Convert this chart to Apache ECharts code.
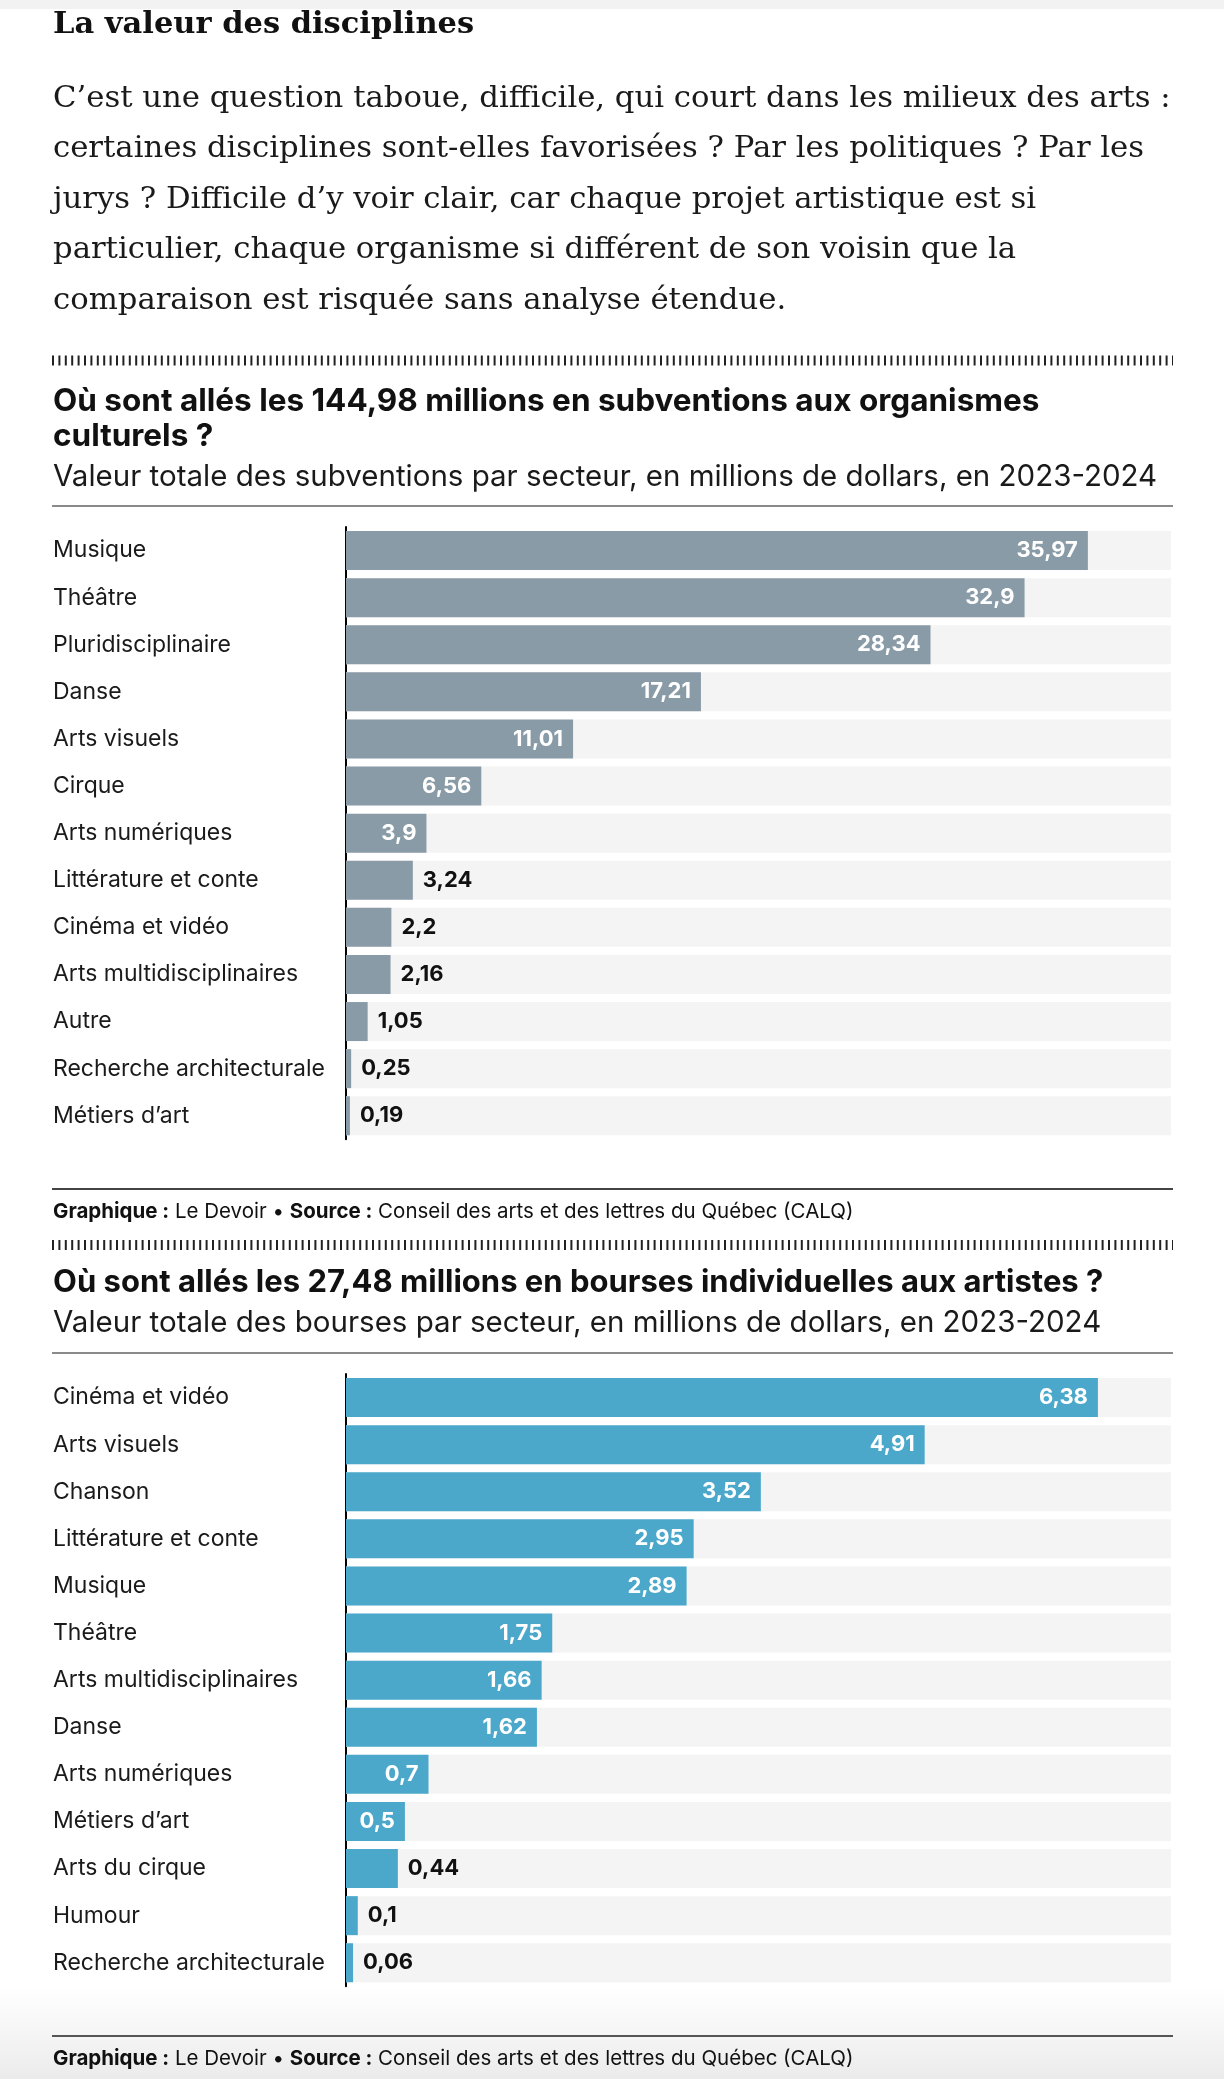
<!DOCTYPE html>
<html>
<head>
<meta charset="utf-8">
<script src="https://cdn.jsdelivr.net/npm/echarts@6/dist/echarts.min.js"></script>
<style>
html,body{margin:0;padding:0;background:#fff;}
#main{width:1224px;height:2079px;}
</style>
</head>
<body>
<div id="main"></div>
<script>
// ---- data ----
const categories1 = ["Musique","Théâtre","Pluridisciplinaire","Danse","Arts visuels","Cirque","Arts numériques","Littérature et conte","Cinéma et vidéo","Arts multidisciplinaires","Autre","Recherche architecturale","Métiers d’art"];
const values1 = [35.97,32.9,28.34,17.21,11.01,6.56,3.9,3.24,2.2,2.16,1.05,0.25,0.19];
const categories2 = ["Cinéma et vidéo","Arts visuels","Chanson","Littérature et conte","Musique","Théâtre","Arts multidisciplinaires","Danse","Arts numériques","Métiers d’art","Arts du cirque","Humour","Recherche architecturale"];
const values2 = [6.38,4.91,3.52,2.95,2.89,1.75,1.66,1.62,0.7,0.5,0.44,0.1,0.06];
const axisMax1 = 40;
const axisMax2 = 7;

const headline = "La valeur des disciplines";
const paragraph = [
  "C’est une question taboue, difficile, qui court dans les milieux des arts :",
  "certaines disciplines sont-elles favorisées ? Par les politiques ? Par les",
  "jurys ? Difficile d’y voir clair, car chaque projet artistique est si",
  "particulier, chaque organisme si différent de son voisin que la",
  "comparaison est risquée sans analyse étendue."
];
const title1 = ["Où sont allés les 144,98 millions en subventions aux organismes", "culturels ?"];
const subtitle1 = "Valeur totale des subventions par secteur, en millions de dollars, en 2023-2024";
const title2 = ["Où sont allés les 27,48 millions en bourses individuelles aux artistes ?"];
const subtitle2 = "Valeur totale des bourses par secteur, en millions de dollars, en 2023-2024";
const footer = "{b|Graphique :} Le Devoir • {b|Source :} Conseil des arts et des lettres du Québec (CALQ)";

// ---- styles ----
const SANS = "Inter, 'Noto Sans', sans-serif";
const SERIF = "'DejaVu Serif', 'Liberation Serif', serif";
const color1 = "#8a9ba8";
const color2 = "#4ba8cb";
const L = 52, R = 1173;

function fmt(v){ return String(v).replace('.', ','); }

function seriesData(values, max, threshold){
  return values.map(v => {
    const inside = v >= threshold;
    return {
      value: v,
      label: inside
        ? {position: 'insideRight', color: '#fff', distance: 10}
        : {position: 'right', color: '#111', distance: 10}
    };
  });
}

const chart = echarts.init(document.getElementById('main'), null, {renderer: 'canvas'});

const graphics = [];
graphics.push({type:'rect', shape:{x:0,y:0,width:1224,height:9}, style:{fill:'#f2f2f2'}, silent:true});
graphics.push({type:'rect', shape:{x:0,y:1988,width:1224,height:91}, style:{fill:new echarts.graphic.LinearGradient(0,0,0,1,[{offset:0,color:'#ffffff'},{offset:1,color:'#ebebeb'}])}, silent:true, z:-10});

graphics.push({type:'text', x:L+1, y:25, style:{text:headline, font:"bold 30.5px "+SERIF, fill:'#111', verticalAlign:'middle'}});
paragraph.forEach((line,i)=>{
  graphics.push({type:'text', x:L+1, y:99+i*50.5, style:{text:line, font:"30.7px "+SERIF, fill:'#1a1a1a', verticalAlign:'middle'}});
});

function dashRule(y){
  graphics.push({type:'line', shape:{x1:L, y1:y, x2:R, y2:y}, style:{stroke:'#222', lineWidth:10, lineDash:[2,4.4], lineCap:'butt'}, silent:true});
}
function rule(y, c, w){
  graphics.push({type:'rect', shape:{x:L, y:y-w/2, width:R-L, height:w}, style:{fill:c}, silent:true});
}
function text(str, x, y, font, fill){
  graphics.push({type:'text', x:x, y:y, style:{text:str, font:font, fill:fill||'#111', verticalAlign:'middle'}});
}
function footerText(y){
  graphics.push({type:'text', x:L+1, y:y, style:{text:footer, font:"20.5px "+SANS, fill:'#111', verticalAlign:'middle',
    rich:{b:{fontWeight:'bold', fontSize:20.5, fontFamily:SANS, fill:'#111'}}}});
}

dashRule(360.5);
text(title1[0], L+1, 402, "bold 31.5px "+SANS);
text(title1[1], L+1, 437, "bold 31.5px "+SANS);
text(subtitle1, L+1, 477, "29.5px "+SANS, '#1a1a1a');
rule(506, '#8a8a8a', 2);
rule(1189, '#444', 2);
footerText(1212);
dashRule(1245);
text(title2[0], L+1, 1283, "bold 31px "+SANS);
text(subtitle2, L+1, 1323, "29.5px "+SANS, '#1a1a1a');
rule(1353, '#8a8a8a', 2);
rule(2036, '#555', 2);
footerText(2059);

const gridW = 825, gridLeft = 346, bandH = 47.1;

function yAxisCfg(gi, cats){
  return {
    type:'category', gridIndex:gi, data:cats, inverse:true,
    axisLine:{show:true, lineStyle:{color:'#000', width:2}},
    axisTick:{show:false},
    axisLabel:{align:'left', margin:gridLeft-(L+1), fontSize:23, fontFamily:SANS, color:'#1a1a1a'}
  };
}
function seriesCfg(gi, values, max, thr, color){
  return {
    type:'bar', xAxisIndex:gi, yAxisIndex:gi,
    data: seriesData(values, max, thr),
    barWidth: 39,
    itemStyle:{color:color},
    showBackground:true,
    backgroundStyle:{color:'#f4f4f4'},
    label:{show:true, fontSize:22, fontWeight:'bold', fontFamily:SANS, formatter:p=>fmt(p.value)},
    silent:true, animation:false
  };
}

chart.setOption({
  animation:false,
  backgroundColor:'#ffffff',
  grid:[
    {left:gridLeft, top:527, width:gridW, height:bandH*13},
    {left:gridLeft, top:1374, width:gridW, height:bandH*13}
  ],
  xAxis:[
    {type:'value', gridIndex:0, min:0, max:axisMax1, show:false},
    {type:'value', gridIndex:1, min:0, max:axisMax2, show:false}
  ],
  yAxis:[ yAxisCfg(0, categories1), yAxisCfg(1, categories2) ],
  series:[
    seriesCfg(0, values1, axisMax1, 3.5, color1),
    seriesCfg(1, values2, axisMax2, 0.47, color2)
  ],
  graphic: graphics
});
</script>
</body>
</html>
